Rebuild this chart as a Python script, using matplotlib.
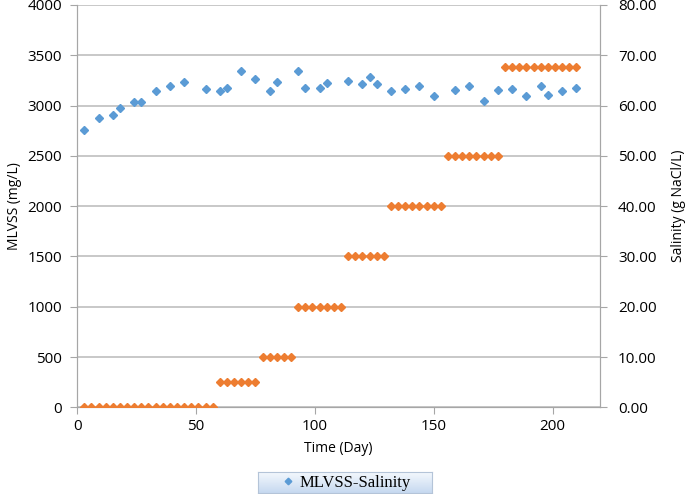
import numpy as np
import matplotlib.pyplot as plt

plt.rcParams['font.family'] = ['Open Sans', 'DejaVu Sans']

#MLVSS data (blue)
mlvss_day = [3, 9, 15, 18, 24, 27, 33, 39, 45, 54, 60, 63, 69, 75, 81, 84, 93, 96, 102,
             105, 114, 120, 123, 126, 132, 138, 144, 150, 159, 165, 171, 177, 183, 189,
             195, 198, 204, 210]
mlvss = [2756, 2872, 2901, 2971, 3031, 3035, 3144, 3197, 3237, 3164, 3144, 3174, 3346,
         3263, 3144, 3234, 3346, 3174, 3174, 3224, 3244, 3210, 3283, 3210, 3144, 3164,
         3197, 3091, 3154, 3197, 3041, 3154, 3164, 3094, 3197, 3107, 3141, 3174]

#salinity data (orange) - days and level of each step
sal_days = [list(range(3, 58, 3)), list(range(60, 76, 3)), list(range(78, 91, 3)),
            list(range(93, 112, 3)), list(range(114, 130, 3)), list(range(132, 154, 3)),
            list(range(156, 178, 3)), list(range(180, 211, 3))]
sal_levels = [0, 5, 10, 20, 30, 40, 50, 67.6]

sal_day = []
salinity = []
for days, lvl in zip(sal_days, sal_levels):
    sal_day += days
    salinity += [lvl] * len(days)

blue = '#5b9bd5'
orange = '#ed7d31'
grey = '#a6a6a6'

fig = plt.figure(figsize=(6.85, 4.94), dpi=100)
ax = fig.add_axes([0.1127, 0.1755, 0.876 - 0.1127, 0.99 - 0.1755])
ax2 = ax.twinx()

ax.set_axisbelow(True)
ax.yaxis.grid(True, color='#bfbfbf', linewidth=1.2)
line, = ax.plot(mlvss_day, mlvss, 'D', color=blue, markersize=4.2, label='MLVSS-Salinity', zorder=3)
ax2.plot(sal_day, salinity, 'D', color=orange, markersize=4.2, zorder=3)

ax.set_xlim(0, 220)
ax.set_ylim(0, 4000)
ax2.set_ylim(0, 80)
ax.set_xticks([0, 50, 100, 150, 200])
ax.set_yticks(np.arange(0, 4001, 500))
ax2.set_yticks(np.arange(0, 81, 10))
ax2.set_yticklabels(['%.2f' % v for v in np.arange(0, 81, 10)])

for a in (ax, ax2):
    for s in a.spines.values():
        s.set_color(grey)
    a.spines['top'].set_visible(False)
    a.tick_params(colors=grey, labelcolor='black', labelsize=11, direction='out', length=5)
ax.tick_params(axis='y', pad=6)
ax2.tick_params(axis='y', pad=8)

ax.set_xlabel('Time (Day)', fontsize=10, labelpad=5)
ax.set_ylabel('MLVSS (mg/L)', fontsize=10, labelpad=4)
ax2.set_ylabel('Salinity (g NaCl/L)', fontsize=10, labelpad=10)

#legend box with gradient fill
lax = fig.add_axes([258 / 685, 1 - 493 / 494, 174 / 685, 21 / 494])
grad = np.linspace(0, 1, 50).reshape(-1, 1)
lax.imshow(grad, aspect='auto', cmap=plt.matplotlib.colors.LinearSegmentedColormap.from_list(
    'lg', ['#f4f8fd', '#c6d9f0']), extent=[0, 1, 1, 0])
lax.set_xticks([])
lax.set_yticks([])
for s in lax.spines.values():
    s.set_color('#b4c4d8')

leg = fig.legend(handles=[line], loc='center', bbox_to_anchor=(345 / 685, 1 - 482.5 / 494),
                 frameon=False, handletextpad=0.2, handlelength=1.0, markerscale=0.8,
                 prop={'family': 'Liberation Serif', 'size': 12})

fig.savefig('out.png', dpi=100)
